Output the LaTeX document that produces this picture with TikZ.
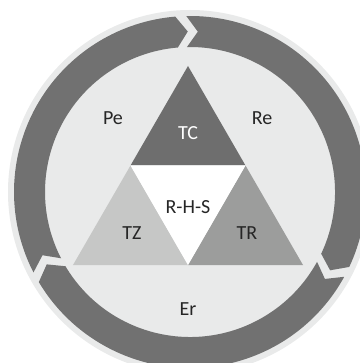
\documentclass[tikz,border=0pt]{standalone}
\usepackage{fontspec}
\setmainfont{Carlito}
\usepackage{tikz}
\usetikzlibrary{calc}
\definecolor{discgray}{HTML}{E9EAEA}
\definecolor{ringgray}{HTML}{717171}
\definecolor{tcgray}{HTML}{6E6E6E}
\definecolor{tzgray}{HTML}{C6C7C6}
\definecolor{trgray}{HTML}{9C9D9C}
\tikzstyle{ring}=[fill=ringgray]
\tikzstyle{mot}=[text=black!85,font=\fontsize{20}{24}\selectfont,inner sep=0pt]
\tikzstyle{motw}=[mot,text=white]
% ring part with notch at #1 and tip at #2 (clockwise)
\newcommand{\rout}{176}
\newcommand{\rin}{145}
\newcommand{\rmid}{160.5}
\newcommand{\gp}{1.8}
\newcommand{\tp}{4}
\newcommand{\ringpart}[2]{%
  \fill[ring] (#1-\gp+\tp:\rout) arc[start angle=#1-\gp+\tp, end angle=#2+\gp+\tp, radius=\rout]
    -- (#2+\gp:\rmid) -- (#2+\gp+\tp:\rin)
    arc[start angle=#2+\gp+\tp, end angle=#1-\gp+\tp, radius=\rin]
    -- (#1-\gp:\rmid) -- cycle;}

\begin{document}
\begin{tikzpicture}[x=1pt,y=1pt]
\useasboundingbox (-190,-171) rectangle (169,192);
\fill[discgray] (0,0) circle[radius=182];
%ring
\ringpart{205}{89}
\ringpart{89}{-31}
\ringpart{329}{205}
%triangle
\coordinate (top) at (-2,126);
\coordinate (bl) at (-117,-73);
\coordinate (br) at (113,-73);
\coordinate (ml) at ($(top)!0.5!(bl)$);
\coordinate (mr) at ($(top)!0.5!(br)$);
\coordinate (mb) at ($(bl)!0.5!(br)$);
\fill[tcgray] (top) -- (ml) -- (mr) -- cycle;
\fill[tzgray] (ml) -- (bl) -- (mb) -- cycle;
\fill[trgray] (mr) -- (mb) -- (br) -- cycle;
\fill[white] (ml) -- (mr) -- (mb) -- cycle;
%texts
\node[mot] (pe) at (-77,74) {Pe};
\node[mot] (re) at (72,74) {Re};
\node[motw] (tc) at (-2,59) {TC};
\node[mot] (rhs) at (-2,-15) {R-H-S};
\node[mot] (tz) at (-58,-41) {TZ};
\node[mot] (tr) at (57,-41) {TR};
\node[mot] (er) at (-2,-117) {Er};
\end{tikzpicture}
\end{document}
